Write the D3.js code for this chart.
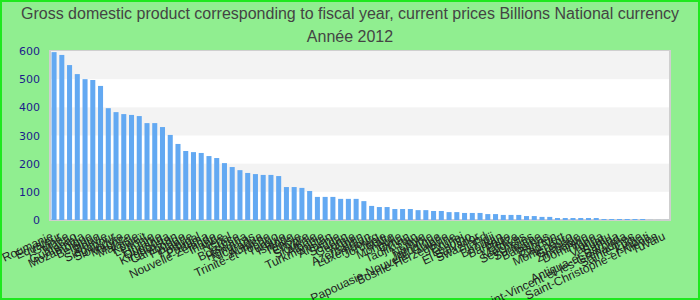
<!DOCTYPE html>
<html>
<head>
<meta charset="utf-8">
<script src="https://cdn.jsdelivr.net/npm/d3@7"></script>
<style>
  body { margin: 0; }
  svg { display: block; font-family: "Liberation Sans", Arial, sans-serif; }
</style>
</head>
<body>
<svg></svg>
<script>
let width = 700, height = 300;

let title = "Gross domestic product corresponding to fiscal year, current prices Billions National currency";
let subtitle = "Année 2012";

let countries = ["Roumanie", "Équateur", "Guinée", "Macao", "Guatemala", "Mozambique", "Belgique", "Bolivie",
  "Singapour", "Slovaquie", "Maurice", "Malaisie", "Koweït", "Lettonie", "Lituanie", "Ouganda",
  "Kirghizistan", "Cambodge", "Finlande", "Portugal", "Panama", "Nouvelle-Zélande", "Irlande", "Népal",
  "Grèce", "Botswana", "Honduras", "Nicaragua", "Autriche", "Trinité-et-Tobago", "Turquie", "Islande",
  "Tunisie", "Chypre", "Slovénie", "Albanie", "Turkménistan", "Arménie", "Soudan", "Géorgie",
  "Yémen", "Azerbaïdjan", "Luxembourg", "Jordanie", "Malte", "Mongolie", "Oman", "Tadjikistan",
  "Libye", "Namibie", "Jamaïque", "Papouasie-Nouvelle-Guinée", "Bosnie-Herzégovine", "Brunei", "Lesotho", "El Salvador",
  "Swaziland", "Fidji", "Bhoutan", "Barbade", "Belize", "Maldives", "Seychelles", "Suriname",
  "Bahamas", "Bahreïn", "Cap-Vert", "Monténégro", "Grenade", "Zimbabwe", "Dominique", "Tonga",
  "Vanuatu", "Samoa", "Antigua-et-Barbuda", "Saint-Vincent-et-les-Grenadines", "Sainte-Lucie", "Kiribati", "Saint-Christophe-et-Niévès", "Tuvalu"];

let gdp = [596, 586, 550, 518, 500, 497, 476, 397,
  383, 376, 373, 369, 344, 344, 330, 302,
  270, 245, 241, 238, 227, 220, 202, 188,
  177, 167, 163, 160, 160, 156, 117, 117,
  114, 103, 82, 82, 82, 75, 75, 75,
  67, 50, 46, 46, 39, 39, 39, 35,
  35, 32, 32, 28, 28, 25, 25, 25,
  21, 21, 18, 18, 18, 14, 14, 11,
  11, 7, 7, 7, 7, 7, 7, 3.5,
  3.5, 3.5, 3.5, 3.5, 3.5, 0.4, 0.3, 0.2];

let yTicks = [0, 100, 200, 300, 400, 500, 600];

let data = countries.map((c, i) => ({ name: c, value: gdp[i] }));

let svg = d3.select("svg")
    .attr("width", width)
    .attr("height", height);

// page background + green frame
svg.append("rect")
    .attr("x", 1).attr("y", 1)
    .attr("width", width - 2).attr("height", height - 2)
    .attr("fill", "#90ee90")
    .attr("stroke", "#1ee81e")
    .attr("stroke-width", 2);

let plot = { left: 50, right: 670, top: 51, bottom: 220 };

let x = d3.scaleBand()
    .domain(data.map(d => d.name))
    .range([plot.left, plot.right])
    .paddingInner(0.35)
    .paddingOuter(0.2);

let y = d3.scaleLinear()
    .domain([0, 600])
    .range([plot.bottom, plot.top]);

// plot background with alternating bands
svg.append("rect")
    .attr("x", plot.left).attr("y", plot.top)
    .attr("width", plot.right - plot.left).attr("height", plot.bottom - plot.top)
    .attr("fill", "#fff")
    .attr("stroke", "#cfcfcf")
    .attr("stroke-width", 2);

svg.append("g")
    .selectAll("rect")
    .data(yTicks.slice(1).filter((t, i) => i % 2 == 0))
    .enter()
    .append("rect")
    .attr("x", plot.left + 1)
    .attr("width", plot.right - plot.left - 2)
    .attr("y", d => y(d + 100))
    .attr("height", d => y(d) - y(d + 100))
    .attr("fill", "#f3f3f3");

// y axis labels
let yAxis = d3.axisLeft(y).tickValues(yTicks).tickSize(0).tickPadding(10);
let gy = svg.append("g")
    .attr("transform", "translate(" + plot.left + ",0)")
    .call(yAxis);
gy.select(".domain").remove();
gy.selectAll("text")
    .attr("fill", "#1c1c8c")
    .attr("font-size", "11px")
    .attr("font-family", "DejaVu Sans, sans-serif");

// bars
svg.append("g")
    .selectAll("rect")
    .data(data)
    .enter()
    .append("rect")
    .attr("x", d => x(d.name))
    .attr("y", d => y(d.value))
    .attr("width", x.bandwidth())
    .attr("height", d => y(0) - y(d.value))
    .attr("fill", "#63a9f2");

// x labels, rotated
let xAxis = d3.axisBottom(x).tickSize(0).tickPadding(0);
let gx = svg.append("g")
    .attr("transform", "translate(0," + (plot.bottom + 19) + ")")
    .call(xAxis);
gx.select(".domain").remove();
gx.selectAll("text")
    .attr("fill", "#222")
    .attr("font-size", "12px")
    .attr("font-family", "Liberation Sans, Arial, sans-serif")
    .attr("text-anchor", "end")
    .attr("dy", 0)
    .attr("y", 0)
    .attr("transform", "rotate(-25)");

// titles
svg.append("text")
    .attr("x", width / 2).attr("y", 19)
    .attr("text-anchor", "middle")
    .attr("font-size", "16px")
    .attr("fill", "#444")
    .text(title);

svg.append("text")
    .attr("x", width / 2).attr("y", 42)
    .attr("text-anchor", "middle")
    .attr("font-size", "16px")
    .attr("fill", "#444")
    .text(subtitle);
</script>
</body>
</html>
